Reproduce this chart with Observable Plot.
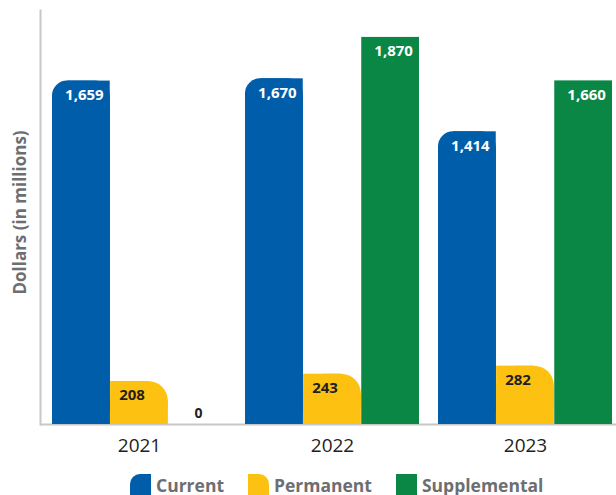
<!DOCTYPE html>
<html>
<head>
<meta charset="utf-8">
<script src="https://cdn.jsdelivr.net/npm/d3@7"></script>
<script src="https://cdn.jsdelivr.net/npm/@observablehq/plot@0.6"></script>
<style>
  html, body { margin: 0; padding: 0; background: #fff; overflow: hidden; }
  #chart svg { display: block; }
  .legend { display: flex; align-items: flex-start; height: 25px; padding-left: 130px; font-family: "Open Sans", sans-serif; font-weight: 700; font-size: 17.5px; color: #6d6e71; }
  .legend .item { display: flex; align-items: flex-start; margin-right: 24px; }
  .legend .sw { width: 21px; height: 26px; margin-right: 5px; margin-top: 4px; }
  .legend .lbl { line-height: 20px; margin-top: 5px; }
</style>
</head>
<body>
<div id="chart"></div>
<script>
const years = ["2021", "2022", "2023"];
const seriesNames = ["Current", "Permanent", "Supplemental"];
const current = [1659, 1670, 1414];
const permanent = [208, 243, 282];
const supplemental = [0, 1870, 1660];
const colors = ["#005daa", "#fdc111", "#0a8745"];
const labelColors = ["#ffffff", "#231f20", "#ffffff"];
const yLabel = "Dollars (in millions)";

const W = 616, H = 470, mL = 40, mR = 0, mT = 10, mB = 46;
const xRange = [mL + 12, W - 3];
const padInner = 0.098;
const bw = d3.scaleBand().domain(years).range(xRange).paddingInner(padInner).paddingOuter(0).bandwidth();
const sub = bw / 3;

const seriesValues = [current, permanent, supplemental];
const rows = seriesValues.map((vals, i) => years.map((y, j) => ({year: y, series: seriesNames[i], value: vals[j]})));

const font = "Open Sans, sans-serif";
const fmt = d3.format(",");

function barMarks(i, r, side) {
  const data = rows[i].filter(d => d.value > 0);
  const offL = i * sub, offR = (2 - i) * sub;
  const base = {x: "year", y: "value", fill: colors[i]};
  if (!r) return [Plot.barY(data, {...base, insetLeft: offL, insetRight: offR})];
  return [
    Plot.barY(data, {...base, insetLeft: offL, insetRight: offR, rx: r}),
    Plot.barY(data, {...base, insetLeft: offL, insetRight: offR, insetTop: r}),
    side === "left"
      ? Plot.barY(data, {...base, insetLeft: offL + r, insetRight: offR})
      : Plot.barY(data, {...base, insetLeft: offL, insetRight: offR + r})
  ];
}

const labelDx = [-sub + 3, -7.5, sub + 3];

const marks = [
  Plot.ruleY([0], {stroke: "#c8c8c8", strokeWidth: 2}),
  Plot.frame({anchor: "left", stroke: "#c8c8c8", strokeWidth: 2}),
  ...barMarks(0, 15, "left"),
  ...barMarks(1, 20, "right"),
  ...barMarks(2, 0),
  Plot.barY(rows[2].filter(d => d.value === 0), {x: "year", y: "value", insetLeft: 2 * sub, insetRight: 0, stroke: colors[2], strokeOpacity: 0.5, strokeWidth: 1}),
  ...rows.map((data, i) => Plot.text(data.filter(d => d.value > 0), {
    x: "year", y: "value", text: d => fmt(d.value), dx: labelDx[i], dy: 14,
    fill: labelColors[i], fontWeight: 700, fontSize: 15, fontFamily: font
  })),
  Plot.text(rows[2].filter(d => d.value === 0), {
    x: "year", y: "value", text: d => fmt(d.value), dx: sub + 1, dy: -10.5,
    fill: "#231f20", fontWeight: 700, fontSize: 14, fontFamily: font
  }),
  Plot.text([yLabel], {
    frameAnchor: "left", textAnchor: "middle", text: d => d, rotate: -90, dx: -20, dy: -5,
    fill: "#6d6e71", fontWeight: 700, fontSize: 17, fontFamily: font
  })
];

const chart = Plot.plot({
  width: W, height: H,
  marginLeft: mL, marginRight: mR, marginTop: mT, marginBottom: mB,
  style: {fontFamily: font, fontSize: "19px", color: "#231f20", background: "#fff"},
  x: {type: "band", domain: years, range: xRange, paddingInner: padInner, paddingOuter: 0, tickSize: 0, tickPadding: 14, label: null},
  y: {domain: [0, 2000], axis: null},
  marks
});
document.getElementById("chart").appendChild(chart);

const legend = document.createElement("div");
legend.className = "legend";
const radii = ["10px 0 0 0", "0 10px 0 0", "0"];
seriesNames.forEach((name, i) => {
  const item = document.createElement("div");
  item.className = "item";
  const sw = document.createElement("div");
  sw.className = "sw";
  sw.style.background = colors[i];
  sw.style.borderRadius = radii[i];
  const lbl = document.createElement("div");
  lbl.className = "lbl";
  lbl.textContent = name;
  item.appendChild(sw);
  item.appendChild(lbl);
  legend.appendChild(item);
});
document.getElementById("chart").appendChild(legend);
</script>
</body>
</html>
